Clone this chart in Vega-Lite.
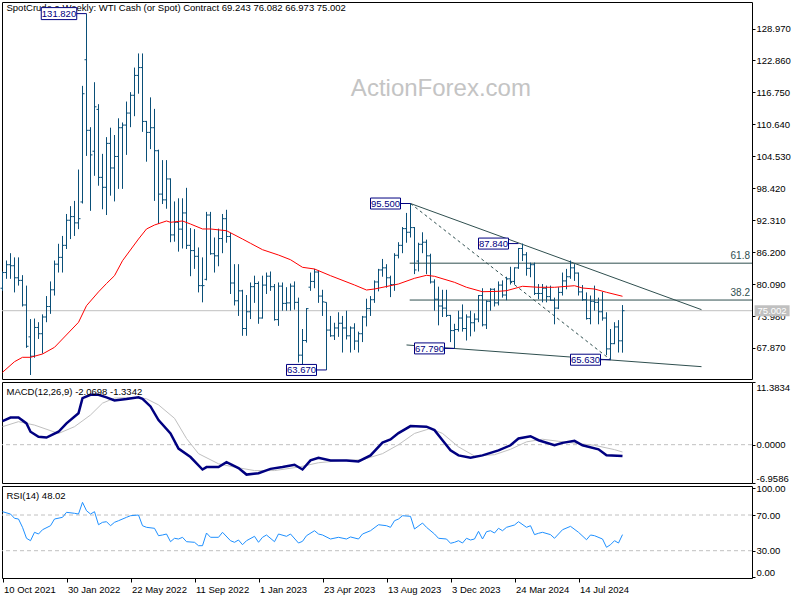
{
"$schema": "https://vega.github.io/schema/vega-lite/v6.json",
"padding": {"left": -3, "top": 1, "right": 12, "bottom": 5},
"spacing": 3,
"bounds": "flush",
"background": "white",
"config": {
  "view": {"stroke": "#000000", "strokeWidth": 1},
  "font": "Liberation Sans",
  "axis": {"labelFont": "Liberation Sans", "labelFontSize": 9.5, "labelColor": "#000000", "tickColor": "#000000", "tickWidth": 1, "grid": false, "domain": false, "labelOverlap": false, "labelBound": false}
},
"datasets": {
  "ohlc": [
{"i":0,"o":79.3,"h":82.5,"l":78.8,"c":82.3},
{"i":1,"o":82.3,"h":84.6,"l":81.1,"c":83.8},
{"i":2,"o":83.8,"h":86.0,"l":81.1,"c":83.6},
{"i":3,"o":83.6,"h":85.2,"l":78.5,"c":81.3},
{"i":4,"o":81.3,"h":85.2,"l":79.8,"c":80.8},
{"i":5,"o":80.8,"h":81.8,"l":75.8,"c":76.1},
{"i":6,"o":76.1,"h":79.8,"l":67.9,"c":68.2},
{"i":7,"o":70.0,"h":73.4,"l":62.7,"c":66.3},
{"i":8,"o":66.3,"h":73.5,"l":66.0,"c":71.8},
{"i":9,"o":71.8,"h":72.8,"l":69.6,"c":70.6},
{"i":10,"o":70.6,"h":74.3,"l":66.8,"c":73.8},
{"i":11,"o":73.8,"h":77.8,"l":72.8,"c":75.8},
{"i":12,"o":75.8,"h":80.6,"l":74.4,"c":79.0},
{"i":13,"o":79.0,"h":84.6,"l":77.9,"c":83.9},
{"i":14,"o":83.9,"h":87.8,"l":82.3,"c":85.2},
{"i":15,"o":85.2,"h":89.3,"l":82.3,"c":87.5},
{"i":16,"o":87.5,"h":93.5,"l":86.8,"c":92.3},
{"i":17,"o":92.3,"h":95.0,"l":88.7,"c":93.0},
{"i":18,"o":93.0,"h":96.0,"l":89.3,"c":91.8},
{"i":19,"o":91.8,"h":102.0,"l":90.6,"c":92.6},
{"i":20,"o":95.8,"h":118.0,"l":95.5,"c":116.5},
{"i":21,"o":123.0,"h":131.82,"l":104.6,"c":109.5},
{"i":22,"o":109.5,"h":110.1,"l":94.1,"c":104.8},
{"i":23,"o":105.5,"h":118.7,"l":100.8,"c":114.0},
{"i":24,"o":113.5,"h":114.5,"l":98.9,"c":100.5},
{"i":25,"o":100.5,"h":105.0,"l":94.4,"c":98.6},
{"i":26,"o":98.6,"h":108.2,"l":93.3,"c":107.0},
{"i":27,"o":107.0,"h":110.0,"l":97.0,"c":102.3},
{"i":28,"o":102.3,"h":108.6,"l":95.9,"c":104.5},
{"i":29,"o":104.5,"h":111.8,"l":98.3,"c":110.0},
{"i":30,"o":110.0,"h":111.0,"l":98.3,"c":110.5},
{"i":31,"o":110.5,"h":115.0,"l":104.8,"c":112.8},
{"i":32,"o":112.8,"h":116.8,"l":110.1,"c":116.2},
{"i":33,"o":116.2,"h":121.5,"l":112.2,"c":120.0},
{"i":34,"o":120.0,"h":124.2,"l":116.5,"c":121.5},
{"i":35,"o":121.5,"h":124.2,"l":109.2,"c":111.2},
{"i":36,"o":111.2,"h":111.3,"l":103.5,"c":109.1},
{"i":37,"o":109.1,"h":115.8,"l":105.9,"c":110.0},
{"i":38,"o":110.0,"h":113.6,"l":96.0,"c":105.6},
{"i":39,"o":105.6,"h":105.8,"l":91.6,"c":97.3},
{"i":40,"o":97.3,"h":103.8,"l":95.4,"c":96.2},
{"i":41,"o":96.2,"h":103.8,"l":94.5,"c":100.2},
{"i":42,"o":100.2,"h":100.3,"l":88.1,"c":89.5},
{"i":43,"o":89.5,"h":95.9,"l":88.2,"c":91.9},
{"i":44,"o":91.9,"h":96.5,"l":86.3,"c":90.6},
{"i":45,"o":90.6,"h":96.5,"l":86.9,"c":93.7},
{"i":46,"o":93.7,"h":98.5,"l":86.8,"c":87.5},
{"i":47,"o":87.5,"h":90.8,"l":81.6,"c":86.5},
{"i":48,"o":86.5,"h":90.6,"l":83.0,"c":85.4},
{"i":49,"o":85.4,"h":87.1,"l":78.5,"c":79.8},
{"i":50,"o":79.8,"h":85.2,"l":76.6,"c":79.8},
{"i":51,"o":81.0,"h":93.9,"l":80.8,"c":93.3},
{"i":52,"o":93.3,"h":93.9,"l":85.7,"c":85.9},
{"i":53,"o":85.9,"h":89.0,"l":82.3,"c":85.5},
{"i":54,"o":85.5,"h":90.7,"l":83.5,"c":88.8},
{"i":55,"o":88.8,"h":93.5,"l":86.0,"c":92.6},
{"i":56,"o":92.6,"h":94.3,"l":88.0,"c":89.2},
{"i":57,"o":89.2,"h":89.9,"l":78.2,"c":80.3},
{"i":58,"o":80.3,"h":83.9,"l":76.0,"c":76.9},
{"i":59,"o":76.9,"h":83.9,"l":74.0,"c":78.8},
{"i":60,"o":78.8,"h":79.0,"l":70.2,"c":71.6},
{"i":61,"o":71.6,"h":78.0,"l":70.2,"c":74.8},
{"i":62,"o":74.8,"h":80.4,"l":73.4,"c":79.6},
{"i":63,"o":79.6,"h":81.7,"l":76.5,"c":80.2},
{"i":64,"o":80.2,"h":80.6,"l":72.5,"c":73.6},
{"i":65,"o":73.6,"h":81.7,"l":73.5,"c":79.9},
{"i":66,"o":79.9,"h":82.3,"l":78.2,"c":81.6},
{"i":67,"o":81.6,"h":82.5,"l":78.8,"c":79.6},
{"i":68,"o":79.6,"h":80.1,"l":73.1,"c":73.3},
{"i":69,"o":73.3,"h":80.4,"l":72.1,"c":79.7},
{"i":70,"o":79.7,"h":80.4,"l":75.0,"c":76.4},
{"i":71,"o":76.4,"h":79.5,"l":75.0,"c":76.5},
{"i":72,"o":76.5,"h":80.2,"l":75.0,"c":79.7},
{"i":73,"o":79.7,"h":80.6,"l":75.2,"c":76.6},
{"i":74,"o":76.6,"h":77.5,"l":65.1,"c":66.5},
{"i":75,"o":66.5,"h":71.5,"l":64.5,"c":69.3},
{"i":76,"o":69.3,"h":75.5,"l":68.9,"c":75.4},
{"i":77,"o":79.5,"h":82.3,"l":78.8,"c":80.6},
{"i":78,"o":80.6,"h":83.0,"l":79.3,"c":82.4},
{"i":79,"o":82.4,"h":82.7,"l":76.5,"c":77.8},
{"i":80,"o":77.8,"h":79.0,"l":74.0,"c":76.7},
{"i":81,"o":76.6,"h":76.6,"l":63.67,"c":71.3},
{"i":82,"o":71.3,"h":74.0,"l":70.0,"c":70.2},
{"i":83,"o":70.2,"h":72.7,"l":69.4,"c":71.7},
{"i":84,"o":71.7,"h":74.7,"l":70.0,"c":72.6},
{"i":85,"o":72.6,"h":74.0,"l":67.0,"c":71.7},
{"i":86,"o":71.7,"h":75.0,"l":69.5,"c":70.2},
{"i":87,"o":70.2,"h":72.0,"l":67.0,"c":71.7},
{"i":88,"o":71.7,"h":72.6,"l":67.5,"c":69.2},
{"i":89,"o":69.2,"h":71.0,"l":67.0,"c":70.6},
{"i":90,"o":70.6,"h":74.0,"l":69.0,"c":73.8},
{"i":91,"o":73.8,"h":77.3,"l":72.0,"c":75.4},
{"i":92,"o":75.4,"h":77.8,"l":74.0,"c":77.1},
{"i":93,"o":77.1,"h":80.8,"l":76.5,"c":80.5},
{"i":94,"o":80.5,"h":83.0,"l":78.7,"c":82.8},
{"i":95,"o":82.8,"h":84.9,"l":81.5,"c":83.2},
{"i":96,"o":83.2,"h":83.9,"l":79.4,"c":81.3},
{"i":97,"o":81.3,"h":81.7,"l":77.6,"c":80.0},
{"i":98,"o":80.0,"h":86.0,"l":78.8,"c":85.6},
{"i":99,"o":85.6,"h":88.1,"l":85.0,"c":87.5},
{"i":100,"o":87.5,"h":91.0,"l":86.0,"c":90.7},
{"i":101,"o":90.7,"h":93.7,"l":88.0,"c":90.0},
{"i":102,"o":90.0,"h":95.5,"l":89.0,"c":90.9},
{"i":103,"o":90.9,"h":91.0,"l":82.0,"c":82.8},
{"i":104,"o":84.5,"h":88.0,"l":82.5,"c":87.7},
{"i":105,"o":87.7,"h":90.0,"l":86.0,"c":88.1},
{"i":106,"o":88.1,"h":88.6,"l":82.0,"c":85.5},
{"i":107,"o":85.5,"h":85.9,"l":80.2,"c":80.5},
{"i":108,"o":80.5,"h":81.0,"l":75.0,"c":77.2},
{"i":109,"o":77.2,"h":79.6,"l":72.2,"c":75.9},
{"i":110,"o":75.9,"h":79.0,"l":73.8,"c":75.5},
{"i":111,"o":75.5,"h":79.0,"l":73.8,"c":74.1},
{"i":112,"o":74.1,"h":74.2,"l":69.0,"c":71.2},
{"i":113,"o":71.2,"h":72.5,"l":67.79,"c":71.4},
{"i":114,"o":71.4,"h":75.0,"l":71.0,"c":73.6},
{"i":115,"o":73.6,"h":76.2,"l":71.0,"c":71.6},
{"i":116,"o":71.6,"h":74.3,"l":69.3,"c":73.8},
{"i":117,"o":73.8,"h":75.0,"l":70.1,"c":72.7},
{"i":118,"o":72.7,"h":74.5,"l":71.0,"c":73.4},
{"i":119,"o":73.4,"h":78.0,"l":72.8,"c":77.9},
{"i":120,"o":77.9,"h":79.3,"l":72.0,"c":72.3},
{"i":121,"o":72.3,"h":77.0,"l":71.5,"c":76.8},
{"i":122,"o":76.8,"h":79.3,"l":75.0,"c":79.1},
{"i":123,"o":79.1,"h":79.3,"l":75.8,"c":76.5},
{"i":124,"o":76.5,"h":80.6,"l":76.0,"c":79.9},
{"i":125,"o":79.9,"h":80.8,"l":77.5,"c":78.0},
{"i":126,"o":78.0,"h":81.5,"l":77.0,"c":81.1},
{"i":127,"o":81.1,"h":83.4,"l":80.0,"c":80.6},
{"i":128,"o":80.6,"h":83.3,"l":80.0,"c":83.2},
{"i":129,"o":83.2,"h":87.0,"l":83.0,"c":86.9},
{"i":130,"o":86.9,"h":87.84,"l":84.5,"c":85.7},
{"i":131,"o":85.7,"h":86.2,"l":81.7,"c":83.1},
{"i":132,"o":83.1,"h":84.2,"l":81.4,"c":83.8},
{"i":133,"o":83.8,"h":84.2,"l":78.0,"c":78.3},
{"i":134,"o":78.3,"h":80.1,"l":77.2,"c":78.3},
{"i":135,"o":78.3,"h":80.1,"l":76.6,"c":79.3},
{"i":136,"o":79.3,"h":79.8,"l":76.6,"c":77.7},
{"i":137,"o":77.7,"h":79.8,"l":76.9,"c":77.0},
{"i":138,"o":77.0,"h":77.5,"l":72.4,"c":75.5},
{"i":139,"o":75.5,"h":79.5,"l":75.3,"c":78.5},
{"i":140,"o":78.5,"h":82.3,"l":77.9,"c":80.7},
{"i":141,"o":80.7,"h":83.0,"l":79.1,"c":81.5},
{"i":142,"o":81.5,"h":84.6,"l":81.1,"c":83.2},
{"i":143,"o":83.2,"h":83.9,"l":80.7,"c":82.2},
{"i":144,"o":82.2,"h":82.3,"l":77.9,"c":78.6},
{"i":145,"o":78.6,"h":79.9,"l":76.9,"c":77.1},
{"i":146,"o":77.1,"h":78.5,"l":73.3,"c":73.5},
{"i":147,"o":73.5,"h":77.9,"l":72.4,"c":76.8},
{"i":148,"o":76.8,"h":79.8,"l":75.0,"c":76.6},
{"i":149,"o":76.6,"h":77.5,"l":72.4,"c":74.8},
{"i":150,"o":74.8,"h":78.6,"l":73.1,"c":73.6},
{"i":151,"o":73.6,"h":74.7,"l":66.5,"c":67.7},
{"i":152,"o":67.7,"h":71.5,"l":65.63,"c":68.7},
{"i":153,"o":68.7,"h":72.8,"l":68.6,"c":71.9},
{"i":154,"o":71.9,"h":73.2,"l":67.0,"c":69.243},
{"i":155,"o":69.243,"h":76.082,"l":66.973,"c":75.002}
  ],
  "sma": [{"i":0,"v":63.22},{"i":3,"v":65.25},{"i":5,"v":66.09},{"i":7,"v":66.09},{"i":10,"v":66.72},{"i":13,"v":68.0},{"i":15,"v":69.59},{"i":19,"v":72.78},{"i":21,"v":75.96},{"i":24,"v":78.6},{"i":26,"v":80.2},{"i":28,"v":81.7},{"i":30,"v":84.56},{"i":34,"v":88.71},{"i":36,"v":90.63},{"i":38,"v":91.39},{"i":41,"v":92.16},{"i":42,"v":91.91},{"i":45,"v":92.16},{"i":47,"v":91.58},{"i":50,"v":90.63},{"i":52,"v":90.63},{"i":56,"v":90.3},{"i":60,"v":88.71},{"i":62,"v":87.89},{"i":65,"v":86.67},{"i":69,"v":85.65},{"i":72,"v":84.75},{"i":75,"v":83.3},{"i":78,"v":82.98},{"i":82,"v":81.7},{"i":88,"v":79.92},{"i":91,"v":78.96},{"i":93,"v":79.15},{"i":99,"v":80.11},{"i":103,"v":81.2},{"i":106,"v":81.77},{"i":108,"v":81.58},{"i":113,"v":80.43},{"i":116,"v":79.48},{"i":120,"v":78.63},{"i":124,"v":78.71},{"i":126,"v":78.83},{"i":130,"v":79.67},{"i":134,"v":79.48},{"i":138,"v":79.48},{"i":143,"v":79.78},{"i":145,"v":79.34},{"i":148,"v":79.15},{"i":151,"v":78.52},{"i":155,"v":77.76}],
  "macd": [{"i":0,"v":4.29},{"i":2,"v":4.92},{"i":4,"v":4.92},{"i":6,"v":3.87},{"i":7,"v":2.35},{"i":9,"v":1.43},{"i":11,"v":1.3},{"i":14,"v":2.35},{"i":16,"v":3.87},{"i":19,"v":5.71},{"i":20,"v":8.46},{"i":22,"v":9.06},{"i":24,"v":9.06},{"i":26,"v":8.59},{"i":28,"v":8.04},{"i":31,"v":8.28},{"i":34,"v":8.59},{"i":35,"v":8.33},{"i":37,"v":6.94},{"i":39,"v":4.48},{"i":42,"v":2.04},{"i":44,"v":-0.72},{"i":47,"v":-2.24},{"i":50,"v":-4.51},{"i":51,"v":-4.07},{"i":54,"v":-4.07},{"i":56,"v":-3.16},{"i":59,"v":-4.26},{"i":61,"v":-5.43},{"i":64,"v":-5.17},{"i":67,"v":-4.39},{"i":70,"v":-4.07},{"i":73,"v":-3.65},{"i":75,"v":-4.51},{"i":77,"v":-2.86},{"i":79,"v":-2.37},{"i":82,"v":-2.86},{"i":86,"v":-2.86},{"i":89,"v":-3.05},{"i":92,"v":-1.94},{"i":95,"v":0.39},{"i":97,"v":0.94},{"i":99,"v":2.1},{"i":102,"v":3.38},{"i":106,"v":3.27},{"i":108,"v":2.64},{"i":110,"v":0.81},{"i":112,"v":-1.03},{"i":114,"v":-1.94},{"i":117,"v":-2.37},{"i":120,"v":-1.94},{"i":124,"v":-1.03},{"i":127,"v":-0.11},{"i":129,"v":1.12},{"i":132,"v":1.54},{"i":134,"v":0.81},{"i":138,"v":-0.11},{"i":140,"v":0.33},{"i":143,"v":0.7},{"i":145,"v":-0.11},{"i":149,"v":-0.84},{"i":151,"v":-1.94},{"i":155,"v":-2.07}],
  "signal": [{"i":0,"v":3.27},{"i":4,"v":4.18},{"i":8,"v":3.56},{"i":14,"v":2.04},{"i":18,"v":3.27},{"i":22,"v":5.39},{"i":25,"v":7.54},{"i":28,"v":8.46},{"i":33,"v":8.59},{"i":36,"v":8.33},{"i":39,"v":7.23},{"i":43,"v":4.79},{"i":46,"v":1.12},{"i":49,"v":-1.63},{"i":54,"v":-3.47},{"i":58,"v":-4.07},{"i":63,"v":-4.7},{"i":68,"v":-4.7},{"i":74,"v":-4.07},{"i":79,"v":-3.28},{"i":85,"v":-2.86},{"i":90,"v":-2.73},{"i":95,"v":-1.63},{"i":99,"v":0.0},{"i":103,"v":2.04},{"i":107,"v":2.95},{"i":110,"v":2.04},{"i":114,"v":-0.4},{"i":118,"v":-2.06},{"i":123,"v":-1.82},{"i":127,"v":-0.84},{"i":131,"v":0.51},{"i":135,"v":0.99},{"i":139,"v":0.62},{"i":144,"v":0.2},{"i":148,"v":-0.11},{"i":153,"v":-0.9},{"i":155,"v":-1.33}],
  "rsi": [{"i":0,"v":73.7},{"i":2,"v":71.1},{"i":3,"v":66.3},{"i":4,"v":65.5},{"i":5,"v":56.2},{"i":6,"v":43.9},{"i":7,"v":41.2},{"i":8,"v":50.6},{"i":9,"v":48.7},{"i":10,"v":53.5},{"i":12,"v":58.0},{"i":13,"v":65.5},{"i":15,"v":67.4},{"i":16,"v":73.0},{"i":18,"v":71.9},{"i":19,"v":71.1},{"i":20,"v":84.2},{"i":21,"v":74.8},{"i":22,"v":71.1},{"i":23,"v":73.7},{"i":24,"v":59.1},{"i":25,"v":61.8},{"i":26,"v":62.5},{"i":27,"v":58.0},{"i":28,"v":61.8},{"i":29,"v":63.6},{"i":31,"v":67.4},{"i":32,"v":69.2},{"i":34,"v":70.0},{"i":35,"v":58.0},{"i":36,"v":56.2},{"i":38,"v":55.1},{"i":39,"v":46.8},{"i":40,"v":47.6},{"i":41,"v":48.7},{"i":42,"v":40.1},{"i":43,"v":43.9},{"i":44,"v":43.1},{"i":45,"v":45.0},{"i":46,"v":40.1},{"i":48,"v":39.4},{"i":49,"v":35.6},{"i":50,"v":35.6},{"i":51,"v":49.8},{"i":52,"v":45.0},{"i":54,"v":45.0},{"i":55,"v":50.6},{"i":57,"v":41.2},{"i":58,"v":39.4},{"i":59,"v":42.0},{"i":60,"v":36.7},{"i":61,"v":41.2},{"i":63,"v":46.1},{"i":64,"v":39.4},{"i":65,"v":45.0},{"i":66,"v":47.6},{"i":68,"v":40.1},{"i":69,"v":48.7},{"i":71,"v":46.1},{"i":72,"v":48.7},{"i":74,"v":38.6},{"i":75,"v":40.5},{"i":76,"v":46.8},{"i":78,"v":52.4},{"i":79,"v":48.7},{"i":80,"v":47.6},{"i":82,"v":43.1},{"i":84,"v":45.0},{"i":86,"v":43.1},{"i":87,"v":45.4},{"i":89,"v":43.1},{"i":90,"v":48.7},{"i":92,"v":52.4},{"i":94,"v":59.1},{"i":96,"v":58.0},{"i":97,"v":56.2},{"i":98,"v":63.6},{"i":99,"v":65.5},{"i":100,"v":69.2},{"i":102,"v":68.5},{"i":103,"v":54.3},{"i":105,"v":61.0},{"i":106,"v":56.2},{"i":108,"v":48.7},{"i":109,"v":43.9},{"i":111,"v":43.1},{"i":112,"v":38.3},{"i":113,"v":39.4},{"i":114,"v":41.2},{"i":115,"v":38.6},{"i":116,"v":43.9},{"i":117,"v":42.0},{"i":118,"v":43.1},{"i":119,"v":51.7},{"i":120,"v":43.1},{"i":121,"v":51.3},{"i":122,"v":52.4},{"i":123,"v":49.8},{"i":124,"v":55.1},{"i":125,"v":52.4},{"i":126,"v":56.2},{"i":128,"v":58.8},{"i":129,"v":62.5},{"i":131,"v":56.2},{"i":132,"v":58.0},{"i":133,"v":48.0},{"i":134,"v":49.5},{"i":135,"v":50.6},{"i":137,"v":48.0},{"i":138,"v":43.9},{"i":140,"v":53.5},{"i":142,"v":57.3},{"i":144,"v":50.6},{"i":146,"v":42.3},{"i":147,"v":47.6},{"i":148,"v":46.8},{"i":150,"v":43.1},{"i":151,"v":33.8},{"i":152,"v":36.7},{"i":153,"v":41.2},{"i":154,"v":38.6},{"i":155,"v":48.0}],
  "trend": [
    {"name":"upper","i0":102,"p0":95.5,"i1":174.75,"p1":75.2},
    {"name":"lower","i0":101,"p0":68.45,"i1":174.75,"p1":64.3},
    {"name":"diag","i0":102,"p0":95.5,"i1":152,"p1":65.63}
  ],
  "fib": [
    {"level":"61.8","price":84.09,"i0":101.8,"i1":187.375},
    {"level":"38.2","price":77.04,"i0":101.8,"i1":187.375}
  ],
  "labels": [
    {"text":"131.820","i":21,"price":131.82},
    {"text":"95.500","i":102,"price":95.5},
    {"text":"87.840","i":129,"price":87.84},
    {"text":"67.790","i":113,"price":67.79},
    {"text":"65.630","i":152,"price":65.63},
    {"text":"63.670","i":81,"price":63.67}
  ]
},
"vconcat": [
{
  "width": 750,
  "height": 377,
  "resolve": {"axis": {"x": "independent", "y": "independent"}},
  "layer": [
    {"data": {"values": [{"t": "ActionForex.com"}]},
     "mark": {"type": "text", "fontSize": 24, "color": "#c4c4c4", "align": "center", "baseline": "middle", "font": "Liberation Sans"},
     "encoding": {
       "x": {"datum": 109.6, "type": "quantitative", "scale": {"domain": [-0.125, 187.375], "nice": false, "zero": false}, "axis": null},
       "y": {"datum": 117.4, "type": "quantitative", "scale": {"domain": [61.94, 134.04], "nice": false, "zero": false}, "axis": null},
       "text": {"field": "t", "type": "nominal"}}},
    {"data": {"values": [{}]},
     "mark": {"type": "rule", "color": "#c0c0c0", "strokeWidth": 1},
     "encoding": {"y": {"datum": 75.002, "type": "quantitative", "scale": {"domain": [61.94, 134.04], "nice": false, "zero": false}, "axis": null}}},
    {"data": {"name": "fib"},
     "mark": {"type": "rule", "color": "#2f4f4f", "strokeWidth": 1},
     "encoding": {
       "x": {"field": "i0", "type": "quantitative", "scale": {"domain": [-0.125, 187.375], "nice": false, "zero": false}, "axis": null},
       "x2": {"field": "i1"},
       "y": {"field": "price", "type": "quantitative", "scale": {"domain": [61.94, 134.04], "nice": false, "zero": false}, "axis": null}}},
    {"data": {"name": "fib"},
     "mark": {"type": "text", "color": "#2f4f4f", "fontSize": 10, "align": "right", "baseline": "bottom", "dx": -2, "dy": -2},
     "encoding": {
       "x": {"field": "i1", "type": "quantitative", "scale": {"domain": [-0.125, 187.375], "nice": false, "zero": false}, "axis": null},
       "y": {"field": "price", "type": "quantitative", "scale": {"domain": [61.94, 134.04], "nice": false, "zero": false}, "axis": null},
       "text": {"field": "level", "type": "nominal"}}},
    {"data": {"name": "trend"},
     "transform": [{"filter": "datum.name !== 'diag'"}],
     "mark": {"type": "rule", "color": "#2f4f4f", "strokeWidth": 1},
     "encoding": {
       "x": {"field": "i0", "type": "quantitative", "scale": {"domain": [-0.125, 187.375], "nice": false, "zero": false}, "axis": null},
       "x2": {"field": "i1"},
       "y": {"field": "p0", "type": "quantitative", "scale": {"domain": [61.94, 134.04], "nice": false, "zero": false}, "axis": null},
       "y2": {"field": "p1"}}},
    {"data": {"name": "trend"},
     "transform": [{"filter": "datum.name === 'diag'"}],
     "mark": {"type": "rule", "color": "#2f4f4f", "strokeWidth": 1, "strokeDash": [3, 3]},
     "encoding": {
       "x": {"field": "i0", "type": "quantitative", "scale": {"domain": [-0.125, 187.375], "nice": false, "zero": false}, "axis": null},
       "x2": {"field": "i1"},
       "y": {"field": "p0", "type": "quantitative", "scale": {"domain": [61.94, 134.04], "nice": false, "zero": false}, "axis": null},
       "y2": {"field": "p1"}}},
    {"data": {"name": "ohlc"},
     "mark": {"type": "rule", "color": "#0a4f78", "strokeWidth": 1},
     "encoding": {
       "x": {"field": "i", "type": "quantitative", "scale": {"domain": [-0.125, 187.375], "nice": false, "zero": false}, "axis": null},
       "y": {"field": "l", "type": "quantitative", "scale": {"domain": [61.94, 134.04], "nice": false, "zero": false},
             "axis": {"orient": "right", "values": [67.87, 73.98, 80.09, 86.2, 92.31, 98.42, 104.53, 110.64, 116.75, 122.86, 128.97], "format": ".3f", "tickSize": 3, "labelPadding": 1, "labelOverlap": false, "labelBound": false, "title": null}},
       "y2": {"field": "h"}}},
    {"data": {"name": "ohlc"},
     "mark": {"type": "tick", "orient": "horizontal", "size": 2, "thickness": 1, "xOffset": -1, "color": "#0a4f78", "opacity": 1},
     "encoding": {
       "x": {"field": "i", "type": "quantitative", "scale": {"domain": [-0.125, 187.375], "nice": false, "zero": false}, "axis": null},
       "y": {"field": "o", "type": "quantitative", "scale": {"domain": [61.94, 134.04], "nice": false, "zero": false}, "axis": null}}},
    {"data": {"name": "ohlc"},
     "mark": {"type": "tick", "orient": "horizontal", "size": 2, "thickness": 1, "xOffset": 1, "color": "#0a4f78", "opacity": 1},
     "encoding": {
       "x": {"field": "i", "type": "quantitative", "scale": {"domain": [-0.125, 187.375], "nice": false, "zero": false}, "axis": null},
       "y": {"field": "c", "type": "quantitative", "scale": {"domain": [61.94, 134.04], "nice": false, "zero": false}, "axis": null}}},
    {"data": {"name": "sma"},
     "mark": {"type": "line", "color": "#ff0000", "strokeWidth": 1},
     "encoding": {
       "x": {"field": "i", "type": "quantitative", "scale": {"domain": [-0.125, 187.375], "nice": false, "zero": false}, "axis": null},
       "y": {"field": "v", "type": "quantitative", "scale": {"domain": [61.94, 134.04], "nice": false, "zero": false}, "axis": null}}},
    {"data": {"values": [{"t": "SpotCrude.a,Weekly:  WTI Cash (or Spot) Contract  69.243 76.082 66.973 75.002"}]},
     "mark": {"type": "text", "fontSize": 9.5, "color": "#000000", "align": "left", "baseline": "middle"},
     "encoding": {
       "x": {"datum": 1, "type": "quantitative", "scale": {"domain": [-0.125, 187.375], "nice": false, "zero": false}, "axis": null},
       "y": {"datum": 132.8, "type": "quantitative", "scale": {"domain": [61.94, 134.04], "nice": false, "zero": false}, "axis": null},
       "text": {"field": "t", "type": "nominal"}}},
    {"data": {"name": "labels"},
     "mark": {"type": "tick", "orient": "horizontal", "size": 10, "thickness": 1, "xOffset": -5, "color": "#000080", "opacity": 1},
     "encoding": {
       "x": {"field": "i", "type": "quantitative", "scale": {"domain": [-0.125, 187.375], "nice": false, "zero": false}, "axis": null},
       "y": {"field": "price", "type": "quantitative", "scale": {"domain": [61.94, 134.04], "nice": false, "zero": false}, "axis": null}}},
    {"data": {"name": "labels"},
     "transform": [{"filter": "length(datum.text) <= 6"}],
     "mark": {"type": "point", "shape": "M-1,-0.3667H1V0.3667H-1Z", "size": 900, "filled": false, "fill": "#ffffff", "fillOpacity": 1, "stroke": "#000080", "strokeWidth": 1, "opacity": 1, "xOffset": -25},
     "encoding": {
       "x": {"field": "i", "type": "quantitative", "scale": {"domain": [-0.125, 187.375], "nice": false, "zero": false}, "axis": null},
       "y": {"field": "price", "type": "quantitative", "scale": {"domain": [61.94, 134.04], "nice": false, "zero": false}, "axis": null}}},
    {"data": {"name": "labels"},
     "transform": [{"filter": "length(datum.text) > 6"}],
     "mark": {"type": "point", "shape": "M-1,-0.338H1V0.338H-1Z", "size": 1260, "filled": false, "fill": "#ffffff", "fillOpacity": 1, "stroke": "#000080", "strokeWidth": 1, "opacity": 1, "xOffset": -27.5},
     "encoding": {
       "x": {"field": "i", "type": "quantitative", "scale": {"domain": [-0.125, 187.375], "nice": false, "zero": false}, "axis": null},
       "y": {"field": "price", "type": "quantitative", "scale": {"domain": [61.94, 134.04], "nice": false, "zero": false}, "axis": null}}},
    {"data": {"name": "labels"},
     "transform": [{"filter": "length(datum.text) <= 6"}],
     "mark": {"type": "text", "fontSize": 9.5, "color": "#000080", "align": "center", "baseline": "middle", "xOffset": -25, "dy": 0.5},
     "encoding": {
       "x": {"field": "i", "type": "quantitative", "scale": {"domain": [-0.125, 187.375], "nice": false, "zero": false}, "axis": null},
       "y": {"field": "price", "type": "quantitative", "scale": {"domain": [61.94, 134.04], "nice": false, "zero": false}, "axis": null},
       "text": {"field": "text", "type": "nominal"}}},
    {"data": {"name": "labels"},
     "transform": [{"filter": "length(datum.text) > 6"}],
     "mark": {"type": "text", "fontSize": 9.5, "color": "#000080", "align": "center", "baseline": "middle", "xOffset": -27.5, "dy": 0.5},
     "encoding": {
       "x": {"field": "i", "type": "quantitative", "scale": {"domain": [-0.125, 187.375], "nice": false, "zero": false}, "axis": null},
       "y": {"field": "price", "type": "quantitative", "scale": {"domain": [61.94, 134.04], "nice": false, "zero": false}, "axis": null},
       "text": {"field": "text", "type": "nominal"}}},
    {"data": {"values": [{"t": "75.002"}]},
     "mark": {"type": "point", "shape": "M-1,-0.314H1V0.314H-1Z", "size": 1225, "filled": true, "color": "#c0c0c0", "opacity": 1},
     "encoding": {
       "x": {"datum": 192.4, "type": "quantitative", "scale": {"domain": [-0.125, 187.375], "nice": false, "zero": false}, "axis": null},
       "y": {"datum": 75.002, "type": "quantitative", "scale": {"domain": [61.94, 134.04], "nice": false, "zero": false}, "axis": null}}},
    {"data": {"values": [{"t": "75.002"}]},
     "mark": {"type": "text", "fontSize": 9.5, "color": "#ffffff", "align": "center", "baseline": "middle", "dy": 0.5},
     "encoding": {
       "x": {"datum": 192.4, "type": "quantitative", "scale": {"domain": [-0.125, 187.375], "nice": false, "zero": false}, "axis": null},
       "y": {"datum": 75.002, "type": "quantitative", "scale": {"domain": [61.94, 134.04], "nice": false, "zero": false}, "axis": null},
       "text": {"field": "t", "type": "nominal"}}}
  ]
},
{
  "width": 750,
  "height": 101,
  "resolve": {"axis": {"x": "independent", "y": "independent"}},
  "layer": [
    {"data": {"values": [{}]},
     "mark": {"type": "rule", "color": "#c0c0c0", "strokeWidth": 1, "strokeDash": [4, 3]},
     "encoding": {"y": {"datum": 0, "type": "quantitative", "scale": {"domain": [-6.9586, 11.3834], "nice": false, "zero": false},
       "axis": {"orient": "right", "values": [-6.9586, 0, 11.3834], "labelExpr": "replace(format(datum.value, '.4f'), '\u2212', '-')", "labelFlush": true, "tickSize": 3, "labelPadding": 1, "labelOverlap": false, "labelBound": false, "title": null}}}},
    {"data": {"name": "signal"},
     "mark": {"type": "line", "color": "#c0c0c0", "strokeWidth": 1},
     "encoding": {
       "x": {"field": "i", "type": "quantitative", "scale": {"domain": [-0.125, 187.375], "nice": false, "zero": false}, "axis": null},
       "y": {"field": "v", "type": "quantitative", "scale": {"domain": [-6.9586, 11.3834], "nice": false, "zero": false}, "axis": null}}},
    {"data": {"name": "macd"},
     "mark": {"type": "line", "color": "#000080", "strokeWidth": 2.5},
     "encoding": {
       "x": {"field": "i", "type": "quantitative", "scale": {"domain": [-0.125, 187.375], "nice": false, "zero": false}, "axis": null},
       "y": {"field": "v", "type": "quantitative", "scale": {"domain": [-6.9586, 11.3834], "nice": false, "zero": false}, "axis": null}}},
    {"data": {"values": [{"t": "MACD(12,26,9) -2.0698 -1.3342"}]},
     "mark": {"type": "text", "fontSize": 9.5, "color": "#000000", "align": "left", "baseline": "middle"},
     "encoding": {
       "x": {"datum": 1, "type": "quantitative", "scale": {"domain": [-0.125, 187.375], "nice": false, "zero": false}, "axis": null},
       "y": {"datum": 9.6, "type": "quantitative", "scale": {"domain": [-6.9586, 11.3834], "nice": false, "zero": false}, "axis": null},
       "text": {"field": "t", "type": "nominal"}}}
  ]
},
{
  "width": 750,
  "height": 92,
  "resolve": {"axis": {"x": "independent", "y": "independent"}},
  "layer": [
    {"data": {"values": [{"lvl": 30}, {"lvl": 70}]},
     "mark": {"type": "rule", "color": "#c0c0c0", "strokeWidth": 1, "strokeDash": [4, 3]},
     "encoding": {"y": {"field": "lvl", "type": "quantitative", "scale": {"domain": [-0.6, 102.5], "nice": false, "zero": false},
       "axis": {"orient": "right", "values": [0, 30, 70, 100], "format": ".2f", "labelFlush": true, "tickSize": 3, "labelPadding": 1, "labelOverlap": false, "labelBound": false, "title": null}}}},
    {"data": {"name": "rsi"},
     "mark": {"type": "line", "color": "#1e90ff", "strokeWidth": 1},
     "encoding": {
       "x": {"field": "i", "type": "quantitative", "scale": {"domain": [-0.125, 187.375], "nice": false, "zero": false},
         "axis": {"values": [0, 16, 32, 48, 64, 80, 96, 112, 128, 144], "labelExpr": "['10 Oct 2021','30 Jan 2022','22 May 2022','11 Sep 2022','1 Jan 2023','23 Apr 2023','13 Aug 2023','3 Dec 2023','24 Mar 2024','14 Jul 2024'][round(datum.value / 16)]", "labelAlign": "left", "labelBaseline": "top", "labelFlush": false, "labelOverlap": false, "labelBound": false, "tickSize": 4, "labelPadding": 2, "labelOffset": 1, "title": null}},
       "y": {"field": "v", "type": "quantitative", "scale": {"domain": [-0.6, 102.5], "nice": false, "zero": false}, "axis": null}}},
    {"data": {"values": [{"t": "RSI(14) 48.02"}]},
     "mark": {"type": "text", "fontSize": 9.5, "color": "#000000", "align": "left", "baseline": "middle"},
     "encoding": {
       "x": {"datum": 1, "type": "quantitative", "scale": {"domain": [-0.125, 187.375], "nice": false, "zero": false}, "axis": null},
       "y": {"datum": 91.6, "type": "quantitative", "scale": {"domain": [-0.6, 102.5], "nice": false, "zero": false}, "axis": null},
       "text": {"field": "t", "type": "nominal"}}}
  ]
}
]
}
